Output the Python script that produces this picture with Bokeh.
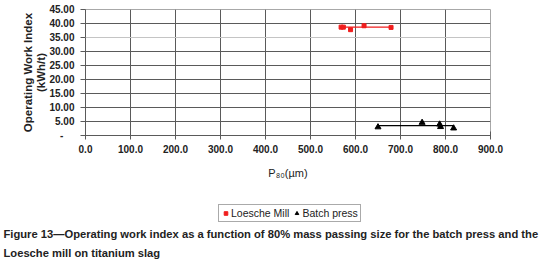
import numpy as np
from bokeh.plotting import figure
from bokeh.models import (Range1d, FixedTicker, CustomJSTickFormatter, Span, Label,
                          Legend, LegendItem, LinearAxis)
from bokeh.layouts import column
from bokeh.embed import file_html
from bokeh.resources import INLINE

# ---- data ----
loesche_p80 = [568, 573, 589, 619, 679]
loesche_wi = [38.7, 38.7, 37.8, 39.2, 38.6]
loesche_trend_x = [568, 679]
loesche_trend_y = [38.7, 38.7]

batch_p80 = [650, 748, 787, 789, 818]
batch_wi = [3.0, 4.6, 4.0, 3.1, 2.6]
batch_trend_x = [650, 818]
batch_trend_y = [3.5, 3.5]

x_ticks = [0, 100, 200, 300, 400, 500, 600, 700, 800, 900]
y_ticks = [0, 5, 10, 15, 20, 25, 30, 35, 40, 45]

series_names = ["Loesche Mill", "Batch press"]
y_title_1 = "Operating Work Index"
y_title_2 = "(kWh/t)"
x_title = "P\u2088\u2080(\u00b5m)"
caption_1 = "Figure 13\u2014Operating work index as a function of 80% mass passing size for the batch press and the"
caption_2 = "Loesche mill on titanium slag"

FONT = "Liberation Sans"
TXT = "#222222"
GRID = "#5a5a5a"
RED = "#f01e1e"

W = 541
H1 = 192
H2 = 264 - H1

# ================= main chart =================
p = figure(width=W, height=H1, output_backend="svg", toolbar_location=None,
           x_range=Range1d(0, 900), y_range=Range1d(0, 45),
           min_border_left=85, min_border_right=51, min_border_top=9,
           min_border_bottom=H1 - 135,
           background_fill_color="white", border_fill_color="white")
p.frame_align = False

p.outline_line_color = "#a8a8a8"

p.xgrid.ticker = FixedTicker(ticks=x_ticks[1:-1])
p.ygrid.ticker = FixedTicker(ticks=[t for t in y_ticks[1:-1] if t != 35])
p.xgrid.grid_line_color = GRID
p.ygrid.grid_line_color = GRID
p.add_layout(Span(location=35, dimension="width", line_color="#c4c4c4", line_width=1))

xa = p.xaxis[0]
xa.ticker = FixedTicker(ticks=x_ticks)
xa.formatter = CustomJSTickFormatter(code="return tick.toFixed(1);")
xa.major_tick_in = 4
xa.major_tick_out = 4
xa.minor_tick_line_color = None
xa.axis_line_color = GRID
xa.major_tick_line_color = GRID
xa.major_label_standoff = 5
xa.major_label_text_font = FONT
xa.major_label_text_font_style = "bold"
xa.major_label_text_font_size = "10px"
xa.major_label_text_color = TXT
xa.axis_label = x_title
xa.axis_label_standoff = 11
xa.axis_label_text_font = FONT
xa.axis_label_text_font_style = "normal"
xa.axis_label_text_font_size = "11px"
xa.axis_label_text_color = TXT

ya = p.yaxis[0]
ya.ticker = FixedTicker(ticks=y_ticks)
ya.formatter = CustomJSTickFormatter(code="return tick == 0 ? '-\u2007\u2007' : tick.toFixed(2);")
ya.major_tick_in = 0
ya.major_tick_out = 5
ya.minor_tick_line_color = None
ya.axis_line_color = GRID
ya.major_tick_line_color = GRID
ya.major_label_standoff = 6
ya.major_label_text_font = FONT
ya.major_label_text_font_style = "bold"
ya.major_label_text_font_size = "10px"
ya.major_label_text_color = TXT
ya.axis_label = y_title_2
ya.axis_label_standoff = -1
ya.axis_label_text_font = FONT
ya.axis_label_text_font_style = "bold"
ya.axis_label_text_font_size = "11.5px"
ya.axis_label_text_color = TXT

# outer (label-only) axis carrying the first line of the y title
ya2 = LinearAxis(ticker=FixedTicker(ticks=[]), axis_label=y_title_1,
                 axis_line_color=None, major_tick_line_color=None,
                 minor_tick_line_color=None, major_tick_out=0, major_label_standoff=0,
                 axis_label_standoff=-1, axis_label_text_font=FONT,
                 axis_label_text_font_style="bold", axis_label_text_font_size="11.5px",
                 axis_label_text_color=TXT)
p.add_layout(ya2, "left")

p.line(loesche_trend_x, loesche_trend_y, line_color=RED, line_width=1.2)
p.scatter(loesche_p80, loesche_wi, marker="square", size=4, fill_color=RED, line_color=RED)
p.line(batch_trend_x, batch_trend_y, line_color="black", line_width=1.2)
p.scatter(batch_p80, batch_wi, marker="triangle", size=6, fill_color="black", line_color="black")

# ================= legend + caption strip =================
q = figure(width=W, height=H2, output_backend="svg", toolbar_location=None,
           x_range=Range1d(0, W), y_range=Range1d(H2, 0),
           x_axis_location=None, y_axis_location=None,
           min_border=0, min_border_left=0, min_border_right=0,
           min_border_top=0, min_border_bottom=0,
           background_fill_color="white", border_fill_color="white")
q.frame_align = False
q.outline_line_color = None
q.xgrid.visible = False
q.ygrid.visible = False

# legend-only renderers (NaN positions: nothing is drawn in the strip itself)
nan = np.array([np.nan])
lg_l = q.scatter(nan, nan, marker="square", size=4, fill_color=RED, line_color=RED)
lg_b = q.scatter(nan, nan, marker="triangle", size=6, fill_color="black", line_color="black")

legend = Legend(items=[LegendItem(label=series_names[0], renderers=[lg_l]),
                       LegendItem(label=series_names[1], renderers=[lg_b])],
                orientation="horizontal", location=(218, H2 - 30),
                padding=2, spacing=3, margin=0,
                glyph_width=9, glyph_height=12, label_standoff=1,
                label_height=12,
                label_text_font=FONT, label_text_font_size="10.5px",
                label_text_color=TXT,
                border_line_color="#555555", border_line_width=1,
                background_fill_color="white", background_fill_alpha=1)
q.add_layout(legend, "center")

for txt, yb in ((caption_1, 41), (caption_2, 60)):
    q.add_layout(Label(x=3, y=yb, text=txt, text_font=FONT, text_font_size="11.2px",
                       text_font_style="bold", text_color=TXT,
                       text_align="left", text_baseline="alphabetic"))

layout = column(p, q, spacing=0)
open("out.html", "w").write(file_html(layout, INLINE))
